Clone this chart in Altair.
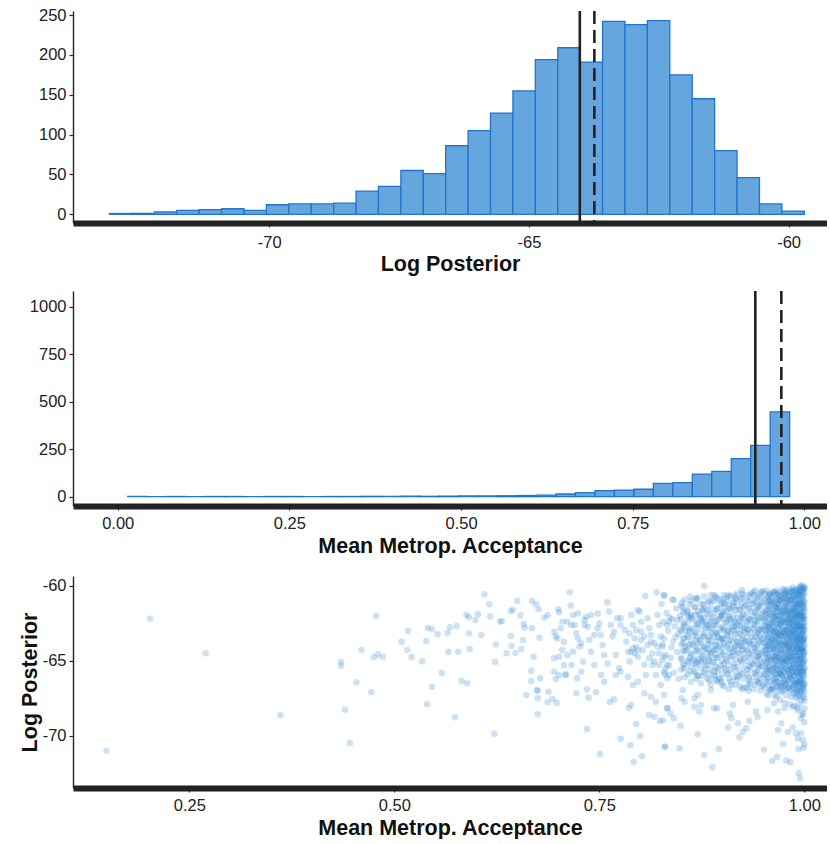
import altair as alt
import pandas as pd

FONT = "Liberation Sans"
FILL = "#66a6df"
EDGE = "#1f74d0"
DOT = "#2f86d4"
INK = "#222222"

# ---------------- Panel 1: histogram of log posterior ----------------
lp_counts = [1, 1, 3, 5, 6, 7, 5, 12, 13, 13, 14, 29, 35, 55, 51, 86, 105, 127,
             155, 194, 209, 191, 242, 238, 243, 175, 145, 80, 46, 13, 4]
lp_first_edge = -73.077
lp_bin_width = 0.4316
lp_mean = -64.02
lp_median = -63.74
lp_ticks = [-70, -65, -60]
lp_count_ticks = [0, 50, 100, 150, 200, 250]

# ---------------- Panel 2: histogram of mean acceptance ----------------
acc_counts = [1, 0, 1, 0, 1, 1, 0, 1, 1, 0, 1, 1, 2, 2, 3, 2, 3, 4, 4, 5, 6, 8,
              14, 21, 32, 35, 39, 70, 74, 119, 133, 200, 270, 446]
acc_first_edge = 0.0146
acc_bin_width = 0.02835
acc_mean = 0.9285
acc_median = 0.9664
acc_ticks = [0.0, 0.25, 0.5, 0.75, 1.0]
acc_count_ticks = [0, 250, 500, 750, 1000]
scatter_acc_ticks = [0.25, 0.5, 0.75, 1.0]
scatter_lp_ticks = [-60, -65, -70]

# ---------------- Panel 3: scatter (acceptance, log posterior) ----------------
sparse_points = [
    (0.149, -71.0), (0.202, -62.18), (0.270, -64.5), (0.361, -68.64),
    (0.435, -65.08), (0.435, -65.33), (0.478, -61.98), (0.460, -64.28), (0.454, -66.43),
    (0.472, -67.1), (0.440, -68.26), (0.446, -70.49), (0.475, -64.76), (0.480, -64.56),
    (0.486, -64.72), (0.509, -63.72), (0.517, -63.0), (0.516, -64.28), (0.521, -64.74),
    (0.534, -65.03), (0.539, -63.67), (0.541, -62.81), (0.546, -62.89), (0.553, -63.23),
    (0.558, -65.81), (0.546, -66.73), (0.540, -67.9), (0.565, -63.12), (0.568, -62.76),
    (0.576, -62.67), (0.566, -64.39), (0.578, -64.39), (0.592, -64.21), (0.591, -63.16),
    (0.582, -66.35), (0.589, -66.5), (0.574, -68.77), (0.588, -61.92), (0.591, -62.09),
    (0.599, -62.27), (0.602, -61.89), (0.610, -60.55), (0.616, -61.22), (0.617, -62.02),
    (0.606, -63.27), (0.624, -63.9), (0.623, -65.08), (0.622, -69.87), (0.629, -62.38),
]

mid_points = [
    (0.714, -60.42), (0.650, -61.0), (0.668, -61.0), (0.673, -61.22), (0.676, -61.56),
    (0.642, -61.67), (0.645, -61.58), (0.654, -61.96), (0.631, -62.34), (0.658, -62.56),
    (0.659, -62.79), (0.668, -62.83), (0.683, -62.12), (0.687, -61.96), (0.700, -61.56),
    (0.701, -61.76), (0.715, -61.32), (0.642, -63.34), (0.657, -63.61), (0.677, -63.45),
    (0.643, -64.01), (0.637, -64.5), (0.648, -64.46), (0.655, -64.21), (0.670, -64.72),
    (0.667, -65.66), (0.667, -66.35), (0.678, -66.17), (0.661, -67.28), (0.674, -66.95),
    (0.675, -67.5), (0.675, -67.0), (0.688, -67.06), (0.687, -67.77), (0.693, -67.55),
    (0.698, -67.8), (0.675, -68.57), (0.697, -66.21), (0.709, -65.9), (0.723, -66.17),
    (0.722, -67.17), (0.735, -66.9), (0.737, -67.46), (0.746, -67.1), (0.735, -69.55),
    (0.751, -71.22), (0.763, -67.75), (0.768, -67.57), (0.776, -70.2), (0.788, -70.64),
    (0.800, -70.02), (0.792, -71.76), (0.802, -71.38), (0.795, -69.22), (0.786, -68.13),
    (0.789, -67.95), (0.830, -70.73), (0.811, -68.62), (0.817, -68.73), (0.824, -69.02),
    (0.695, -63.05), (0.697, -63.38), (0.703, -62.83), (0.705, -64.27), (0.707, -63.72),
    (0.711, -64.61), (0.718, -61.94), (0.720, -62.61), (0.722, -63.16), (0.718, -64.39),
    (0.726, -64.05), (0.730, -65.05), (0.734, -62.05), (0.736, -62.72), (0.738, -63.61),
    (0.740, -64.39), (0.744, -65.28), (0.748, -61.83), (0.750, -62.49), (0.752, -63.27),
    (0.754, -63.94), (0.756, -64.61), (0.760, -65.17), (0.762, -61.71), (0.764, -62.61),
    (0.766, -63.38), (0.770, -64.61), (0.774, -65.5), (0.776, -62.16), (0.781, -62.94),
    (0.783, -63.72), (0.785, -64.39), (0.787, -65.05), (0.789, -61.94), (0.791, -62.61),
    (0.793, -63.5), (0.795, -64.05), (0.797, -64.72), (0.799, -61.71), (0.801, -63.05),
    (0.803, -64.27), (0.805, -65.28), (0.807, -65.95), (0.809, -62.16), (0.811, -62.83),
    (0.813, -63.72), (0.815, -64.5), (0.817, -65.05), (0.819, -65.95), (0.821, -61.94),
    (0.823, -62.61), (0.825, -63.38), (0.827, -64.05), (0.829, -64.72), (0.831, -65.5),
    (0.833, -66.17), (0.835, -62.38), (0.695, -65.72), (0.701, -65.95), (0.709, -65.95),
    (0.728, -65.72), (0.752, -65.95), (0.756, -66.39), (0.770, -65.95), (0.776, -65.72),
    (0.785, -66.06), (0.791, -66.61), (0.797, -66.39), (0.805, -67.17), (0.813, -67.39),
    (0.819, -67.73), (0.825, -66.61), (0.829, -67.28), (0.833, -68.17), (0.699, -63.5),
    (0.789, -64.39), (0.791, -64.16), (0.793, -64.5), (0.797, -64.27), (0.801, -63.61),
    (0.805, -63.38), (0.809, -63.94), (0.813, -63.27), (0.817, -63.83), (0.821, -64.05),
    (0.823, -64.5), (0.827, -64.94), (0.829, -65.72), (0.833, -65.28), (0.811, -64.83),
    (0.815, -65.28), (0.823, -65.28), (0.835, -65.95), (0.787, -63.16), (0.795, -62.94),
    (0.801, -62.38), (0.797, -61.6), (0.740, -61.94), (0.732, -62.27), (0.724, -61.83),
    (0.732, -62.61), (0.772, -62.16), (0.776, -62.61), (0.768, -63.05), (0.744, -63.27),
    (0.748, -62.83), (0.760, -61.09), (0.806, -60.67), (0.820, -60.42), (0.829, -60.65),
    (0.711, -62.38), (0.716, -62.61), (0.705, -62.38), (0.724, -63.5), (0.728, -63.83),
    (0.695, -64.83), (0.701, -64.72), (0.707, -65.28), (0.716, -65.28),
]

tail_points = [
    (0.830, -70.73), (0.848, -70.84), (0.870, -69.91), (0.878, -71.29), (0.888, -72.11),
    (0.896, -70.89), (0.907, -69.46), (0.921, -70.11), (0.925, -69.73), (0.929, -69.51),
    (0.933, -69.02), (0.951, -70.93), (0.961, -71.69), (0.967, -71.4), (0.974, -70.55),
    (0.978, -71.65), (0.983, -71.78), (0.968, -69.62), (0.972, -69.17), (0.980, -69.73),
    (0.986, -69.46), (0.990, -69.84), (0.992, -70.18), (0.993, -72.51), (0.995, -72.85),
    (0.996, -69.84), (0.998, -70.29), (0.999, -70.8), (0.993, -70.91), (1.0, -70.58),
    (0.996, -68.84), (0.998, -68.62), (0.841, -68.84), (0.837, -68.51), (0.833, -68.17),
    (0.849, -69.33), (0.828, -68.99), (0.854, -67.73), (0.866, -67.5), (0.872, -68.39),
    (0.874, -67.95), (0.886, -66.95), (0.890, -68.17), (0.894, -68.17), (0.909, -68.51),
    (0.913, -67.95), (0.919, -69.17), (0.911, -68.84), (0.931, -67.73), (0.941, -68.39),
    (0.943, -68.73), (0.955, -68.28), (0.963, -67.84), (0.968, -68.39), (0.976, -68.17),
    (0.986, -68.06), (0.992, -68.17), (0.866, -68.06), (0.870, -67.28), (0.852, -66.95),
    (0.850, -67.5),
    (0.878, -59.98), (0.924, -60.27), (0.949, -60.33), (0.996, -59.93), (1.0, -60.11),
    (0.976, -60.27), (0.986, -60.38), (0.829, -60.6), (0.841, -60.94), (0.868, -60.78),
    (0.902, -60.87), (0.915, -60.65), (0.935, -60.49), (0.959, -60.56),
]

zone_a_points = [
    (0.826, -61.2), (0.828, -62.4), (0.829, -63.5), (0.831, -64.6), (0.832, -61.8),
    (0.834, -63.0), (0.835, -65.3), (0.836, -62.1), (0.838, -64.1), (0.839, -60.9),
    (0.840, -63.7), (0.841, -65.8), (0.842, -62.7), (0.844, -61.5), (0.845, -64.4),
    (0.846, -63.2), (0.847, -66.2), (0.848, -62.0), (0.850, -64.9), (0.851, -61.1),
    (0.852, -63.8), (0.853, -65.5), (0.854, -62.5), (0.855, -64.0), (0.857, -61.7),
    (0.858, -63.4), (0.859, -65.1), (0.860, -62.9), (0.861, -60.7), (0.862, -64.6),
    (0.863, -62.2), (0.864, -63.9), (0.866, -65.8), (0.867, -61.4), (0.868, -63.1),
    (0.869, -64.3), (0.870, -62.6), (0.871, -66.0), (0.872, -61.9), (0.873, -63.6),
    (0.874, -65.0), (0.875, -62.3), (0.876, -64.7), (0.877, -61.2), (0.878, -63.3),
    (0.879, -65.6), (0.880, -62.8), (0.881, -64.2), (0.882, -61.6), (0.883, -63.9),
    (0.884, -66.3), (0.885, -62.4), (0.886, -64.5),
    (0.827, -63.9), (0.833, -62.6), (0.837, -64.8), (0.843, -63.4), (0.849, -62.9),
    (0.856, -64.3), (0.862, -61.9), (0.865, -63.3), (0.868, -65.2), (0.873, -62.2),
    (0.877, -64.0), (0.881, -62.6), (0.884, -63.6), (0.830, -65.9), (0.845, -62.3),
    (0.852, -61.4), (0.858, -62.0), (0.864, -65.0), (0.870, -63.8), (0.876, -61.6),
    (0.880, -65.3), (0.839, -62.2), (0.855, -63.0), (0.871, -64.9), (0.878, -62.1),
    (0.883, -64.9),
]

zone_b_points = [
    (0.887, -61.0), (0.887, -63.2), (0.888, -65.1), (0.889, -62.1), (0.889, -64.3),
    (0.890, -60.6), (0.891, -63.7), (0.891, -66.0), (0.892, -62.6), (0.893, -64.8),
    (0.894, -61.5), (0.894, -63.1), (0.895, -65.5), (0.896, -62.2), (0.897, -64.0),
    (0.897, -60.9), (0.898, -63.5), (0.899, -66.4), (0.900, -61.8), (0.900, -64.6),
    (0.901, -62.9), (0.902, -65.2), (0.903, -61.2), (0.903, -63.9), (0.904, -62.4),
    (0.905, -64.9), (0.906, -60.7), (0.906, -63.3), (0.907, -65.8), (0.908, -62.0),
    (0.909, -64.2), (0.909, -61.5), (0.910, -63.6), (0.911, -66.6), (0.912, -62.7),
    (0.912, -64.7), (0.913, -61.1), (0.914, -63.0), (0.915, -65.4), (0.915, -62.3),
    (0.916, -64.1), (0.917, -60.9), (0.918, -63.7), (0.918, -66.1), (0.919, -62.5),
    (0.920, -64.5), (0.921, -61.6), (0.921, -63.2), (0.922, -65.0), (0.923, -62.1),
    (0.924, -64.0), (0.924, -60.8), (0.925, -63.5), (0.926, -66.8), (0.927, -62.8),
    (0.927, -64.8), (0.928, -61.3), (0.929, -63.1), (0.930, -65.6), (0.930, -62.4),
    (0.931, -64.3), (0.932, -61.0), (0.933, -63.8), (0.933, -66.3), (0.934, -62.2),
    (0.935, -64.6), (0.936, -61.7), (0.936, -63.4), (0.937, -65.2), (0.938, -62.6),
    (0.939, -64.1), (0.939, -60.6), (0.940, -63.0), (0.941, -65.9), (0.942, -62.0),
    (0.942, -64.4), (0.943, -61.4), (0.944, -63.6), (0.945, -66.5), (0.945, -62.9),
    (0.946, -64.9), (0.946, -61.2),
    (0.888, -62.8), (0.892, -64.2), (0.895, -63.4), (0.898, -62.0), (0.901, -63.5),
    (0.904, -65.6), (0.907, -63.0), (0.910, -62.2), (0.913, -64.4), (0.916, -62.7),
    (0.919, -63.9), (0.922, -62.6), (0.925, -64.2), (0.928, -63.7), (0.931, -62.9),
    (0.934, -65.4), (0.937, -63.9), (0.940, -62.3), (0.943, -64.7), (0.946, -63.3),
    (0.890, -65.7), (0.896, -66.2), (0.902, -61.7), (0.908, -66.9), (0.914, -61.4),
    (0.920, -66.0), (0.926, -61.9), (0.932, -66.6), (0.938, -61.1), (0.944, -65.3),
]

zone_c_points = [
    (0.948, -60.8), (0.948, -62.9), (0.949, -64.6), (0.950, -61.7), (0.950, -63.8),
    (0.951, -65.9), (0.951, -62.3), (0.952, -60.5), (0.952, -64.1), (0.953, -63.0),
    (0.953, -66.4), (0.954, -61.3), (0.954, -65.2), (0.955, -62.7), (0.955, -64.8),
    (0.956, -60.9), (0.956, -63.5), (0.957, -65.6), (0.957, -62.0), (0.958, -64.3),
    (0.958, -61.6), (0.959, -63.2), (0.959, -66.9), (0.960, -62.5), (0.960, -64.9),
    (0.949, -62.1), (0.951, -63.4), (0.953, -61.9), (0.955, -65.7), (0.957, -63.9),
    (0.959, -61.0), (0.950, -66.6), (0.954, -64.0), (0.958, -62.8), (0.956, -67.3),
    (0.952, -62.6), (0.960, -63.6), (0.948, -65.4), (0.957, -60.6), (0.953, -64.5),
    (0.961, -61.2), (0.961, -63.7), (0.962, -65.5), (0.962, -62.4), (0.963, -60.4),
    (0.963, -64.2), (0.964, -66.2), (0.964, -61.8), (0.965, -63.1), (0.965, -65.0),
    (0.966, -62.0), (0.966, -64.6), (0.967, -60.9), (0.967, -63.4), (0.968, -66.7),
    (0.968, -62.6), (0.969, -64.8), (0.969, -61.4), (0.970, -63.9), (0.970, -65.8),
    (0.971, -62.2), (0.971, -60.6), (0.972, -64.3), (0.972, -63.0), (0.973, -66.0),
    (0.973, -61.7), (0.974, -62.9), (0.974, -65.3), (0.975, -64.0), (0.975, -60.8),
    (0.962, -63.0), (0.964, -64.7), (0.966, -61.5), (0.968, -63.8), (0.970, -62.5),
    (0.972, -65.6), (0.974, -63.6), (0.963, -62.1), (0.965, -61.1), (0.967, -65.3),
    (0.969, -63.2), (0.971, -64.5), (0.973, -62.3), (0.975, -66.4), (0.961, -66.9),
    (0.966, -67.4), (0.970, -61.0), (0.974, -67.0), (0.962, -64.0), (0.968, -60.5),
    (0.972, -61.9), (0.964, -63.4), (0.966, -65.9), (0.971, -63.3), (0.973, -64.9),
]

zone_d_points = [
    (0.976, -61.5), (0.976, -63.3), (0.976, -65.1), (0.977, -62.4), (0.977, -64.6),
    (0.977, -60.5), (0.978, -63.8), (0.978, -66.3), (0.978, -61.9), (0.979, -62.9),
    (0.979, -64.9), (0.979, -60.9), (0.980, -63.5), (0.980, -65.6), (0.980, -62.2),
    (0.981, -61.3), (0.981, -64.1), (0.981, -66.8), (0.982, -62.7), (0.982, -63.9),
    (0.982, -60.7), (0.983, -65.3), (0.983, -61.8), (0.983, -64.4), (0.984, -63.0),
    (0.984, -62.1), (0.984, -66.0), (0.985, -60.3), (0.985, -64.8), (0.985, -63.4),
    (0.986, -61.6), (0.986, -62.6), (0.986, -65.5), (0.987, -64.0), (0.987, -60.9),
    (0.987, -67.2), (0.988, -63.2), (0.988, -62.0), (0.988, -65.0), (0.989, -61.2),
    (0.989, -63.7), (0.989, -64.5), (0.990, -62.4), (0.990, -66.4), (0.990, -60.6),
    (0.977, -63.0), (0.978, -65.0), (0.979, -61.6), (0.980, -64.3), (0.981, -62.5),
    (0.982, -65.9), (0.983, -63.6), (0.984, -61.0), (0.985, -62.3), (0.986, -64.2),
    (0.987, -62.9), (0.988, -66.6), (0.989, -62.7), (0.990, -64.0), (0.976, -66.7),
    (0.978, -60.4), (0.980, -61.9), (0.982, -64.7), (0.984, -64.9), (0.986, -63.1),
    (0.988, -61.5), (0.990, -63.3), (0.977, -61.1), (0.979, -64.0), (0.981, -63.2),
    (0.983, -62.2), (0.985, -65.7), (0.987, -61.7), (0.989, -65.6), (0.990, -61.8),
]

edge_points = [
    (0.991, -60.3), (0.991, -61.4), (0.991, -62.5), (0.991, -63.6), (0.991, -64.7),
    (0.991, -65.8), (0.991, -66.9), (0.991, -62.0), (0.991, -64.1),
    (0.992, -60.8), (0.992, -61.9), (0.992, -63.0), (0.992, -64.2), (0.992, -65.3),
    (0.992, -66.4), (0.992, -62.6), (0.992, -63.5), (0.992, -67.4),
    (0.993, -60.5), (0.993, -61.6), (0.993, -62.7), (0.993, -63.8), (0.993, -64.9),
    (0.993, -66.0), (0.993, -61.1), (0.993, -65.5),
    (0.994, -60.2), (0.994, -61.2), (0.994, -62.3), (0.994, -63.3), (0.994, -64.4),
    (0.994, -65.5), (0.994, -66.6), (0.994, -63.9), (0.994, -62.0),
    (0.995, -60.6), (0.995, -61.8), (0.995, -62.9), (0.995, -64.0), (0.995, -65.1),
    (0.995, -66.2), (0.995, -63.5), (0.995, -64.6),
    (0.996, -60.1), (0.996, -61.0), (0.996, -62.1), (0.996, -63.2), (0.996, -64.3),
    (0.996, -65.4), (0.996, -66.5), (0.996, -67.1), (0.996, -62.7),
    (0.997, -60.4), (0.997, -61.5), (0.997, -62.6), (0.997, -63.7), (0.997, -64.8),
    (0.997, -65.9), (0.997, -61.9), (0.997, -64.2),
    (0.998, -60.0), (0.998, -60.9), (0.998, -62.0), (0.998, -63.1), (0.998, -64.2),
    (0.998, -65.2), (0.998, -66.3), (0.998, -63.6), (0.998, -65.7),
    (0.999, -60.3), (0.999, -61.3), (0.999, -62.4), (0.999, -63.5), (0.999, -64.6),
    (0.999, -65.7), (0.999, -66.8), (0.999, -62.9), (0.999, -64.1),
    (1.000, -60.2), (1.000, -61.1), (1.000, -62.2), (1.000, -63.3), (1.000, -64.4),
    (1.000, -65.5), (1.000, -66.6), (1.000, -61.7), (1.000, -63.8), (1.000, -64.9),
    (1.000, -67.5), (1.000, -62.7),
]

# densely overplotted draws, read column by column (acceptance -> log posteriors)
dense_mid_columns = {
    0.850: [-61.3, -62.2, -63.0, -63.9, -64.8, -65.6],
    0.854: [-60.9, -61.8, -62.7, -63.5, -64.4, -65.3, -66.1],
    0.858: [-61.6, -62.4, -63.3, -64.1, -65.0, -65.9],
    0.862: [-61.0, -62.0, -62.8, -63.7, -64.5, -65.4, -66.4],
    0.866: [-61.4, -62.3, -63.1, -64.0, -64.9, -65.7],
    0.870: [-60.8, -61.7, -62.5, -63.4, -64.2, -65.1, -66.0],
    0.874: [-61.2, -62.1, -62.9, -63.8, -64.6, -65.5, -66.5],
    0.878: [-60.7, -61.5, -62.4, -63.2, -64.1, -64.9, -65.8],
    0.882: [-61.1, -61.9, -62.8, -63.6, -64.5, -65.3, -66.2],
    0.886: [-60.6, -61.4, -62.2, -63.0, -63.9, -64.7, -65.6, -66.6],
    0.890: [-61.0, -61.8, -62.6, -63.4, -64.3, -65.1, -66.0],
    0.894: [-60.8, -61.5, -62.3, -63.2, -64.0, -64.8, -65.7, -66.4],
    0.898: [-61.2, -62.0, -62.8, -63.6, -64.4, -65.3, -66.2],
    0.902: [-60.6, -61.4, -62.2, -63.0, -63.8, -64.6, -65.5, -66.7],
    0.906: [-61.0, -61.7, -62.5, -63.3, -64.1, -65.0, -65.9],
    0.910: [-60.7, -61.5, -62.3, -63.1, -63.9, -64.7, -65.6, -66.4],
    0.914: [-61.1, -61.9, -62.7, -63.5, -64.3, -65.2, -66.1],
    0.918: [-60.5, -61.3, -62.1, -62.9, -63.7, -64.5, -65.4, -66.3],
    0.922: [-60.9, -61.6, -62.4, -63.2, -64.0, -64.9, -65.8, -66.7],
    0.926: [-60.6, -61.4, -62.2, -63.0, -63.8, -64.6, -65.5, -66.2],
    0.930: [-61.0, -61.8, -62.6, -63.4, -64.2, -65.0, -65.9, -66.8],
    0.934: [-60.7, -61.5, -62.3, -63.1, -63.9, -64.8, -65.6, -66.5],
    0.938: [-60.4, -61.2, -62.0, -62.8, -63.6, -64.4, -65.2, -66.1, -66.9],
    0.942: [-60.8, -61.6, -62.4, -63.2, -64.0, -64.8, -65.7, -66.4],
    0.946: [-60.5, -61.3, -62.1, -62.9, -63.7, -64.5, -65.3, -66.2, -67.0],
}

dense_mid_extra_columns = {
    0.852: [-61.7, -62.6, -63.5, -64.3, -65.2],
    0.860: [-61.2, -62.1, -63.0, -63.9, -64.8, -65.7],
    0.868: [-60.9, -61.9, -62.7, -63.6, -64.4, -65.3, -66.2],
    0.876: [-61.6, -62.5, -63.4, -64.3, -65.1, -66.0],
    0.884: [-61.0, -61.8, -62.6, -63.4, -64.3, -65.0, -65.9],
    0.892: [-60.7, -61.6, -62.4, -63.1, -63.9, -64.6, -65.4, -66.3],
    0.900: [-61.1, -61.9, -62.7, -63.5, -64.2, -65.0, -65.9, -66.6],
    0.908: [-60.6, -61.3, -62.1, -62.9, -63.7, -64.5, -65.3, -66.2],
    0.916: [-60.8, -61.6, -62.4, -63.2, -64.0, -64.9, -65.7, -66.6],
    0.924: [-60.5, -61.2, -62.0, -62.8, -63.6, -64.3, -65.1, -65.9, -66.9],
    0.932: [-60.6, -61.4, -62.2, -62.9, -63.7, -64.5, -65.3, -66.1, -67.0],
    0.940: [-60.3, -61.0, -61.8, -62.6, -63.4, -64.2, -65.0, -65.8, -66.6],
    0.944: [-60.7, -61.5, -62.3, -63.1, -63.9, -64.7, -65.5, -66.3],
    0.948: [-60.4, -61.1, -61.9, -62.7, -63.5, -64.3, -65.1, -65.9, -66.7],
}

dense_edge_columns = {
    0.952: [-60.9, -61.7, -62.3, -63.0, -63.8, -64.3, -65.0, -65.5, -66.0, -66.8],
    0.954: [-60.3, -61.1, -61.6, -62.1, -62.7, -63.2, -63.6, -64.2, -64.6, -65.1, -65.6, -66.2, -67.2],
    0.956: [-60.7, -61.3, -61.8, -62.5, -62.9, -63.4, -64.0, -64.5, -64.9, -65.4, -66.1, -66.6],
    0.958: [-60.5, -61.0, -61.5, -62.2, -62.6, -63.1, -63.7, -64.1, -64.8, -65.3, -65.8, -66.4, -67.0],
    0.960: [-60.8, -61.2, -61.9, -62.4, -62.9, -63.5, -63.9, -64.4, -65.0, -65.6, -66.0, -66.9],
    0.962: [-60.4, -61.0, -61.6, -62.0, -62.7, -63.1, -63.6, -64.2, -64.7, -65.2, -65.7, -66.3, -66.7],
    0.964: [-60.6, -61.3, -61.8, -62.3, -62.8, -63.3, -63.8, -64.3, -64.9, -65.4, -65.9, -66.5, -67.3],
    0.966: [-60.3, -60.9, -61.4, -62.0, -62.5, -63.0, -63.5, -64.1, -64.5, -65.0, -65.6, -66.1, -66.8],
    0.968: [-60.7, -61.2, -61.7, -62.2, -62.8, -63.2, -63.7, -64.2, -64.8, -65.3, -65.8, -66.4, -67.0],
    0.970: [-60.4, -61.0, -61.5, -62.1, -62.6, -63.1, -63.6, -64.0, -64.6, -65.1, -65.7, -66.2, -66.6, -67.6],
    0.972: [-60.6, -61.1, -61.8, -62.3, -62.7, -63.3, -63.8, -64.3, -64.9, -65.4, -65.9, -66.5, -67.1],
    0.974: [-60.2, -60.8, -61.4, -61.9, -62.4, -63.0, -63.4, -63.9, -64.5, -65.0, -65.5, -66.0, -66.7],
    0.976: [-60.5, -61.0, -61.6, -62.1, -62.6, -63.1, -63.7, -64.2, -64.7, -65.2, -65.8, -66.3, -66.9, -67.8],
    0.978: [-60.3, -60.9, -61.3, -61.8, -62.4, -62.9, -63.4, -63.9, -64.4, -65.0, -65.5, -66.0, -66.6, -67.3],
    0.980: [-60.6, -61.1, -61.7, -62.2, -62.7, -63.2, -63.6, -64.1, -64.6, -65.1, -65.7, -66.2, -66.8],
    0.982: [-60.2, -60.7, -61.2, -61.8, -62.3, -62.8, -63.3, -63.8, -64.3, -64.8, -65.3, -65.9, -66.4, -67.0, -67.9],
    0.984: [-60.4, -60.9, -61.5, -62.0, -62.5, -63.0, -63.5, -64.0, -64.5, -65.0, -65.6, -66.1, -66.6, -67.4],
    0.986: [-60.1, -60.6, -61.1, -61.6, -62.1, -62.6, -63.1, -63.6, -64.2, -64.7, -65.2, -65.7, -66.3, -66.8],
    0.988: [-60.3, -60.8, -61.3, -61.9, -62.4, -62.9, -63.4, -63.9, -64.4, -64.9, -65.4, -66.0, -66.5, -67.1, -68.0],
    0.990: [-60.2, -60.7, -61.2, -61.7, -62.2, -62.7, -63.2, -63.7, -64.2, -64.7, -65.2, -65.8, -66.3, -66.9, -67.5],
    0.992: [-60.4, -60.9, -61.4, -61.9, -62.4, -62.9, -63.4, -63.9, -64.4, -64.9, -65.4, -65.9, -66.5, -67.0, -68.3],
    0.994: [-60.1, -60.6, -61.1, -61.6, -62.1, -62.6, -63.1, -63.6, -64.1, -64.6, -65.1, -65.6, -66.1, -66.7, -67.3, -67.9],
    0.996: [-60.3, -60.8, -61.3, -61.8, -62.3, -62.8, -63.3, -63.8, -64.3, -64.8, -65.3, -65.8, -66.3, -66.9, -67.6],
    0.998: [-60.2, -60.7, -61.2, -61.7, -62.2, -62.7, -63.2, -63.7, -64.2, -64.7, -65.2, -65.7, -66.2, -66.8, -67.4, -68.5],
    1.000: [-60.1, -60.5, -61.0, -61.5, -62.0, -62.5, -63.0, -63.5, -64.0, -64.5, -65.0, -65.5, -66.0, -66.5, -67.0, -67.7, -68.2, -69.1],
}

dense_edge_extra_columns = {
    0.965: [-60.5, -61.4, -62.2, -63.0, -63.9, -64.7, -65.5, -66.4],
    0.971: [-60.9, -61.7, -62.5, -63.3, -64.2, -65.0, -65.9, -66.7],
    0.977: [-60.6, -61.4, -62.3, -63.1, -63.9, -64.8, -65.6, -66.5],
    0.983: [-60.4, -60.9, -61.7, -62.5, -63.2, -64.0, -64.7, -65.5, -66.2, -66.9],
    0.987: [-60.7, -61.5, -62.2, -63.0, -63.7, -64.5, -65.3, -66.0, -66.7],
    0.991: [-60.5, -61.2, -62.0, -62.8, -63.5, -64.3, -65.0, -65.8, -66.5, -67.2],
    0.995: [-60.4, -61.2, -61.9, -62.7, -63.4, -64.2, -64.9, -65.7, -66.4, -67.0],
    0.999: [-60.6, -61.4, -62.1, -62.9, -63.6, -64.4, -65.1, -65.9, -66.6, -67.2],
}

# ---------------- tables ----------------
hist_lp = pd.DataFrame({
    "lo": [lp_first_edge + i * lp_bin_width for i in range(len(lp_counts))],
    "count": lp_counts,
})
hist_lp["hi"] = hist_lp["lo"] + lp_bin_width

hist_acc = pd.DataFrame({
    "lo": [acc_first_edge + i * acc_bin_width for i in range(len(acc_counts))],
    "count": acc_counts,
})
hist_acc["hi"] = hist_acc["lo"] + acc_bin_width

all_points = (sparse_points + mid_points + tail_points + zone_a_points
              + zone_b_points + zone_c_points + zone_d_points + edge_points)
for cols in (dense_mid_columns, dense_mid_extra_columns, dense_edge_columns,
             dense_edge_extra_columns):
    for acc_val, lps in cols.items():
        all_points += [(acc_val, v) for v in lps]
scatter = pd.DataFrame(all_points, columns=["acc", "lp"])

W = 754
MINUS_FIX = "toString(datum.value)"


def x_axis(title, values, label_pad, title_pad, fmt=None, expr=None):
    kw = dict(title=title, values=values, grid=False,
              domainColor=INK, domainWidth=6, tickColor=INK, tickSize=4,
              tickWidth=1.2, labelPadding=label_pad, titlePadding=title_pad,
              labelOverlap=False)
    if fmt:
        kw["format"] = fmt
    if expr:
        kw["labelExpr"] = expr
    return alt.Axis(**kw)


def y_axis(values, title="", fmt=None, expr=None):
    kw = dict(title=title, values=values, grid=False,
              domainColor=INK, domainWidth=1.4, tickColor=INK, tickSize=4,
              tickWidth=1.2, labelPadding=3, titlePadding=1,
              labelOverlap=False)
    if fmt:
        kw["format"] = fmt
    if expr:
        kw["labelExpr"] = expr
    return alt.Axis(**kw)


# ---------- panel 1 ----------
def x1(field):
    return alt.X(f"{field}:Q",
                 scale=alt.Scale(domain=[-73.78, -59.26], nice=False, zero=False),
                 axis=x_axis("Log Posterior", lp_ticks, 7, 3, expr=MINUS_FIX))


y1 = alt.Y("count:Q", scale=alt.Scale(domain=[-10.9, 255.1], nice=False, zero=False),
           axis=y_axis(lp_count_ticks, fmt="d"))

bars1 = alt.Chart(hist_lp).mark_bar(fill=FILL, stroke=EDGE, strokeWidth=1.3).encode(
    x=x1("lo"), x2="hi:Q", y=y1, y2=alt.datum(0))
mean1 = alt.Chart(pd.DataFrame({"lo": [lp_mean]})).mark_rule(
    color=INK, strokeWidth=2.6).encode(x=x1("lo"))
median1 = alt.Chart(pd.DataFrame({"lo": [lp_median]})).mark_rule(
    color=INK, strokeWidth=2.6, strokeDash=[13, 6]).encode(x=x1("lo"))
p1 = alt.layer(bars1, mean1, median1).properties(width=W, height=212)


# ---------- panel 2 ----------
def x2(field):
    return alt.X(f"{field}:Q",
                 scale=alt.Scale(domain=[-0.0651, 1.0329], nice=False, zero=False),
                 axis=x_axis("Mean Metrop. Acceptance", acc_ticks, 5, 4, fmt=".2f"))


y2 = alt.Y("count:Q", scale=alt.Scale(domain=[-49, 1082], nice=False, zero=False),
           axis=y_axis(acc_count_ticks, fmt="d"))

bars2 = alt.Chart(hist_acc).mark_bar(fill=FILL, stroke=EDGE, strokeWidth=1.3).encode(
    x=x2("lo"), x2="hi:Q", y=y2, y2=alt.datum(0))
mean2 = alt.Chart(pd.DataFrame({"lo": [acc_mean]})).mark_rule(
    color=INK, strokeWidth=2.6).encode(x=x2("lo"))
median2 = alt.Chart(pd.DataFrame({"lo": [acc_median]})).mark_rule(
    color=INK, strokeWidth=2.6, strokeDash=[13, 6]).encode(x=x2("lo"))
p2 = alt.layer(bars2, mean2, median2).properties(width=W, height=215)

# ---------- panel 3 ----------
p3 = alt.Chart(scatter).mark_circle(color=DOT, opacity=0.25, size=42).encode(
    x=alt.X("acc:Q", scale=alt.Scale(domain=[0.1082, 1.0277], nice=False, zero=False),
            axis=x_axis("Mean Metrop. Acceptance", scatter_acc_ticks, 5, 4, fmt=".2f")),
    y=alt.Y("lp:Q", scale=alt.Scale(domain=[-73.494, -59.332], nice=False, zero=False),
            axis=y_axis(scatter_lp_ticks, "Log Posterior", expr=MINUS_FIX)),
).properties(width=W, height=212,
             title=alt.TitleParams(text=" ", fontSize=1, offset=4))

chart = alt.vconcat(p1, p2, p3, spacing=14).properties(
    padding={"left": 19, "top": 7, "right": 0, "bottom": 0},
    background="white",
).configure_view(strokeWidth=0).configure_axis(
    labelFont=FONT, labelFontSize=16.5, labelColor=INK,
    titleFont=FONT, titleFontSize=21.5, titleFontWeight="bold", titleColor="#111111",
)

chart.save("out.html", embed_options={"renderer": "svg", "actions": False})
